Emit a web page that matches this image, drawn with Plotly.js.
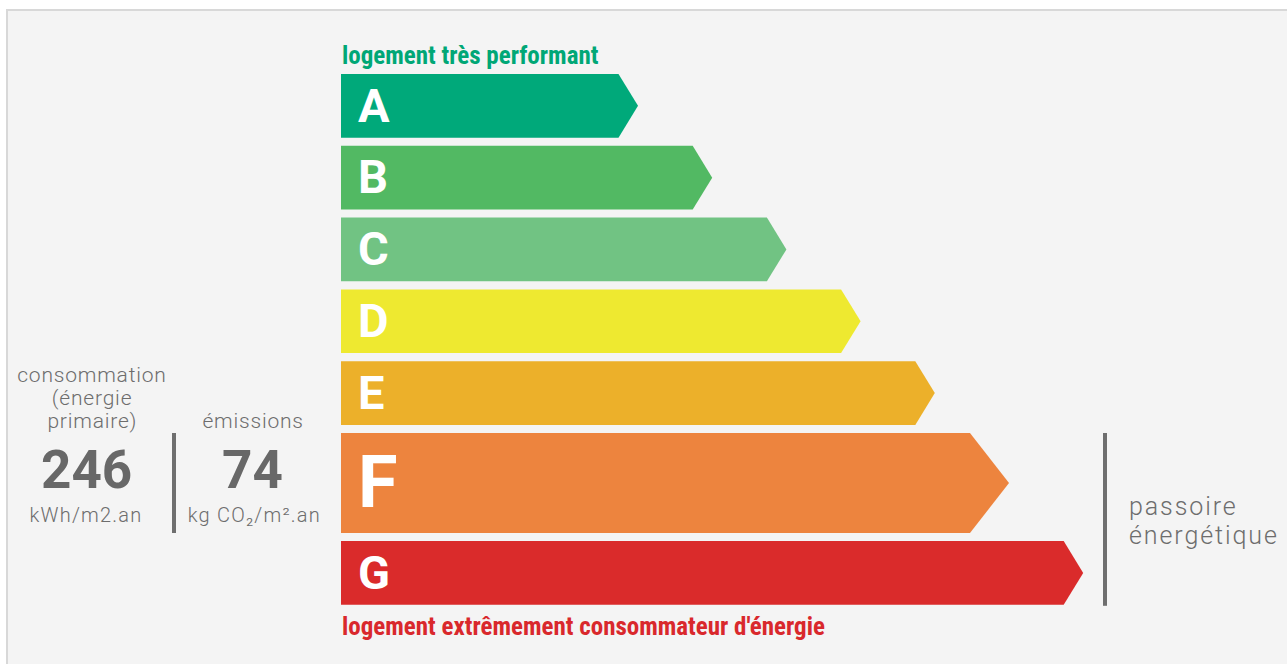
<!DOCTYPE html>
<html>
<head>
<meta charset="utf-8">
<script src="https://cdn.plot.ly/plotly-3.0.1.min.js"></script>
<style>
html,body{margin:0;padding:0;background:#ffffff;}
#chart{width:1287px;height:664px;}
#chart g.annotation[data-index="2"] text,
#chart g.annotation[data-index="3"] text,
#chart g.annotation[data-index="4"] text,
#chart g.annotation[data-index="5"] text{letter-spacing:0.8px;}
#chart g.annotation[data-index="8"] text,
#chart g.annotation[data-index="9"] text{letter-spacing:1.2px;}
#chart g.annotation[data-index="10"] text,
#chart g.annotation[data-index="11"] text{letter-spacing:1.9px;}
</style>
</head>
<body>
<div id="chart"></div>
<script>
// ---- data ----
const classes = ['A', 'B', 'C', 'D', 'E', 'F', 'G'];
const classRank = [1, 2, 3, 4, 5, 6, 7];
const currentClass = 'F';
const consumptionValue = 246;
const consumptionLabel = ['consommation', '(énergie', 'primaire)'];
const consumptionUnit = 'kWh/m2.an';
const emissionsValue = 74;
const emissionsLabel = 'émissions';
const emissionsUnit = 'kg CO₂/m².an';
const topLabel = 'logement très performant';
const bottomLabel = "logement extrêmement consommateur d'énergie";
const sideLabel = ['passoire', 'énergétique'];

(function () {
// ---- style ----
const classColors = ['#00a97a', '#52b963', '#71c383', '#eee930', '#ecb02a', '#ed843e', '#da2b2b'];
const grey = '#6d6d6d';
const condensed = '"Roboto Condensed", "Liberation Sans Narrow", "DejaVu Sans Condensed", Roboto, sans-serif';
const regular = 'Roboto, "Noto Sans", sans-serif';

// ---- geometry (layout constants) ----
const X0 = 341, L0 = 297, STEP = 74.2;
const TOP0 = 74, H = 63.7, GAP = 8.1, HHI = 100;
const D = 19.5, DHI = 39;

const traces = [];
const letterX = [], letterY = [], letterSize = [];
let yTop = TOP0;
let hiTop = 0, hiBot = 0;
classes.forEach((c, i) => {
  const hi = c === currentClass;
  const h = hi ? HHI : H;
  const d = hi ? DHI : D;
  const bot = yTop + h, mid = yTop + h / 2;
  const tip = X0 + L0 + STEP * (classRank[i] - 1);
  traces.push({
    type: 'scatter', mode: 'lines', fill: 'toself',
    x: [X0, tip - d, tip, tip - d, X0, X0],
    y: [yTop, yTop, mid, bot, bot, yTop],
    line: {width: 0, color: classColors[i]}, fillcolor: classColors[i],
    hoverinfo: 'skip', showlegend: false
  });
  letterX.push(X0 + 17);
  letterY.push(mid + (hi ? 5.5 : 4));
  letterSize.push(hi ? 72 : 47);
  if (hi) { hiTop = yTop; hiBot = bot; }
  yTop = bot + GAP;
});
const lastBot = yTop - GAP;
traces.push({
  type: 'scatter', mode: 'text', x: letterX, y: letterY, text: classes,
  textposition: 'middle right',
  textfont: {family: regular, size: letterSize, color: '#ffffff', weight: 700},
  hoverinfo: 'skip', showlegend: false
});

const ann = (text, x, y, size, color, opts = {}) => Object.assign({
  text, x, y, xref: 'x', yref: 'y', showarrow: false,
  xanchor: 'center', yanchor: 'middle',
  font: {family: regular, size, color, weight: 300}
}, opts);

const annotations = [
  ann(topLabel, X0 - 1, 55, 25, '#00a776', {xanchor: 'left', align: 'left', font: {family: condensed, size: 25, color: '#00a776', weight: 700}}),
  ann(bottomLabel, X0 - 1, 626, 25, '#d9282c', {xanchor: 'left', align: 'left', font: {family: condensed, size: 25, color: '#d9282c', weight: 700}}),
  ann(consumptionLabel[0], 92, 375, 21, grey),
  ann(consumptionLabel[1], 92, 398, 21, grey),
  ann(consumptionLabel[2], 92, 421, 21, grey),
  ann(emissionsLabel, 253, 421, 21, grey),
  ann(String(consumptionValue), 86, 470, 53, '#686868', {font: {family: regular, size: 53, color: '#686868', weight: 700}}),
  ann(String(emissionsValue), 252, 470, 53, '#686868', {font: {family: regular, size: 53, color: '#686868', weight: 700}}),
  ann(consumptionUnit, 86, 515, 20, grey),
  ann(emissionsUnit, 254, 515, 20, grey),
  ann(sideLabel[0], 1127, 506, 25, grey, {xanchor: 'left', align: 'left'}),
  ann(sideLabel[1], 1127, 535, 25, grey, {xanchor: 'left', align: 'left'})
];

const shapes = [
  {type: 'rect', xref: 'x', yref: 'y', x0: 7, y0: 10, x1: 1300, y1: 700,
   fillcolor: '#f4f4f4', line: {color: '#d8d8d8', width: 2}, layer: 'below'},
  {type: 'line', xref: 'x', yref: 'y', x0: 174, x1: 174, y0: hiTop, y1: hiBot,
   line: {color: '#6e6e6e', width: 4}},
  {type: 'line', xref: 'x', yref: 'y', x0: 1105, x1: 1105, y0: hiTop, y1: lastBot + 1,
   line: {color: '#6e6e6e', width: 4}}
];

const layout = {
  width: 1287, height: 664,
  margin: {l: 0, r: 0, t: 0, b: 0, pad: 0},
  paper_bgcolor: '#ffffff', plot_bgcolor: 'rgba(0,0,0,0)',
  xaxis: {range: [0, 1287], visible: false, fixedrange: true},
  yaxis: {range: [664, 0], visible: false, fixedrange: true},
  showlegend: false,
  annotations, shapes
};

Plotly.newPlot('chart', traces, layout, {displayModeBar: false, staticPlot: true});
})();
</script>
</body>
</html>
